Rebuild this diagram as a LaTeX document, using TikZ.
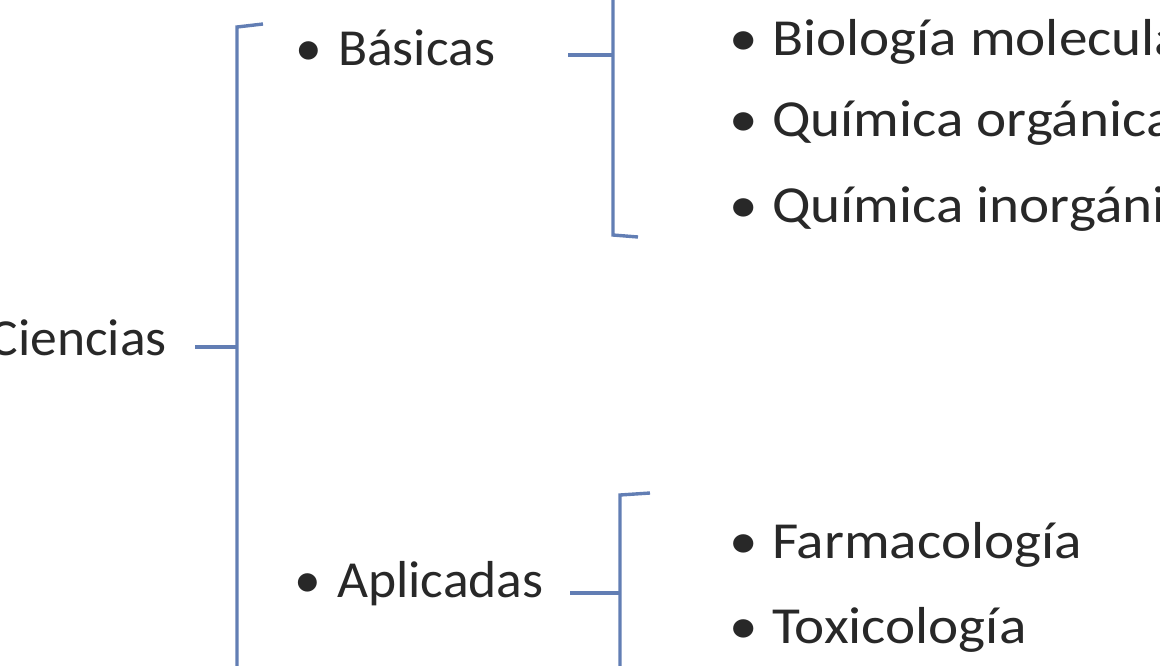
\documentclass[tikz,border=0pt]{standalone}
\usepackage{fontspec}
\setmainfont{Carlito}
\newfontfamily\leftfont[FakeStretch=1.03]{Carlito}
\newfontfamily\rightfont[FakeStretch=1.1]{Carlito}
\definecolor{brkblue}{RGB}{98,126,180}
\definecolor{txtgray}{RGB}{40,40,40}
\tikzset{
  lbl/.style={anchor=base west, inner sep=0pt, text=txtgray, font=\fontsize{52}{60}\leftfont},
  rlbl/.style={lbl, font=\fontsize{52}{60}\rightfont},
  brk/.style={draw=brkblue, line width=3.4pt},
}
\newcommand{\itm}[1]{\makebox[43pt][l]{\textbullet}#1}

\begin{document}
\begin{tikzpicture}[x=1pt,y=-1pt]
            \clip (0,0) rectangle (1160,665);

            \node[lbl, anchor=base east] (cien) at (167,355) {Ciencias};
            \node[lbl] (bas) at (295,65) {\itm{Básicas}};
            \node[lbl] (apl) at (294,597) {\itm{Aplicadas}};

            \node[rlbl] (bio) at (729,55) {\itm{Biología molecular}};
            \node[rlbl] (qorg) at (729,136) {\itm{Química orgánica}};
            \node[rlbl] (qinorg) at (729,222) {\itm{Química inorgánica}};
            \node[rlbl] (farm) at (729,558) {\itm{Farmacología}};
            \node[rlbl] (tox) at (729,643) {\itm{Toxicología}};

            % big bracket
            \coordinate (c-hook) at (263,24);
            \coordinate (c-top) at (237,27);
            \coordinate (c-mid) at (237,347);
            \coordinate (c-end) at (237,700);
            \coordinate (c-in) at (195,347);
            \draw[brk] (c-hook) -- (c-top) -- (c-end);
            \draw[brk] (c-in) -- (c-mid);

            % bracket of Basicas
            \coordinate (b-top) at (613,-20);
            \coordinate (b-mid) at (613,55);
            \coordinate (b-bot) at (613,235);
            \coordinate (b-hook) at (638,237);
            \coordinate (b-in) at (568,55);
            \draw[brk] (b-top) -- (b-bot) -- (b-hook);
            \draw[brk] (b-in) -- (b-mid);

            % bracket of Aplicadas
            \coordinate (a-hook) at (650,493);
            \coordinate (a-top) at (620,495);
            \coordinate (a-mid) at (620,593);
            \coordinate (a-end) at (620,700);
            \coordinate (a-in) at (570,593);
            \draw[brk] (a-hook) -- (a-top) -- (a-end);
            \draw[brk] (a-in) -- (a-mid);
        \end{tikzpicture}
\end{document}
